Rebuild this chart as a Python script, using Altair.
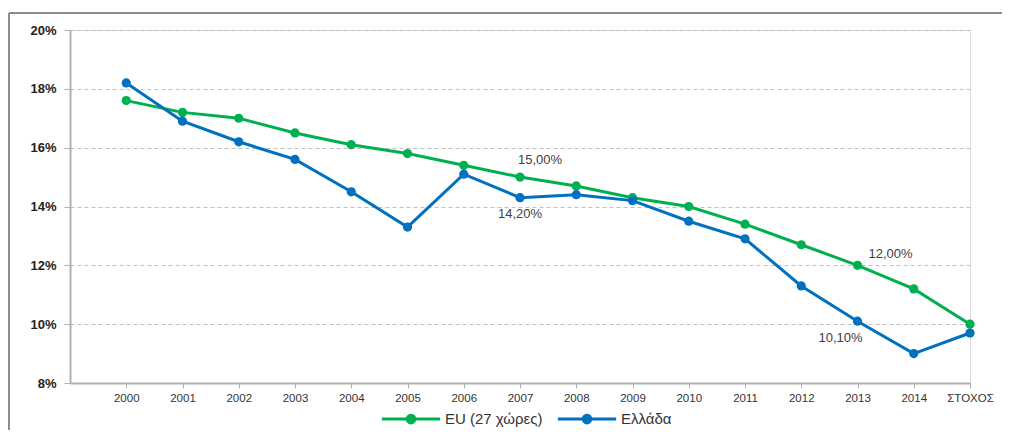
import altair as alt
import pandas as pd

categories = ["2000", "2001", "2002", "2003", "2004", "2005", "2006", "2007",
              "2008", "2009", "2010", "2011", "2012", "2013", "2014", "ΣΤΟΧΟΣ"]
eu_values = [17.6, 17.2, 17.0, 16.5, 16.1, 15.8, 15.4, 15.0, 14.7, 14.3, 14.0,
             13.4, 12.7, 12.0, 11.2, 10.0]
gr_values = [18.2, 16.9, 16.2, 15.6, 14.5, 13.3, 15.1, 14.3, 14.4, 14.2, 13.5,
             12.9, 11.3, 10.1, 9.0, 9.7]
series_names = ["EU (27 χώρες)", "Ελλάδα"]
series_colors = ["#00B050", "#0070C0"]

# annotations: (series, category, text)
ann_series = ["EU (27 χώρες)", "Ελλάδα", "EU (27 χώρες)", "Ελλάδα"]
ann_cats = ["2007", "2007", "2013", "2013"]
ann_texts = ["15,00%", "14,20%", "12,00%", "10,10%"]

rows = []
for s, vals in zip(series_names, [eu_values, gr_values]):
    for i, (c, v) in enumerate(zip(categories, vals)):
        rows.append({"idx": i, "cat": c, "value": v, "series": s})
df = pd.DataFrame(rows)

ann_rows = []
for s, c, t in zip(ann_series, ann_cats, ann_texts):
    i = categories.index(c)
    v = (eu_values if s == series_names[0] else gr_values)[i]
    ann_rows.append({"idx": i, "value": v, "text": t})
ann_df = pd.DataFrame(ann_rows)

FONT = "Liberation Sans"
label_expr = "[" + ",".join("'" + c + "'" for c in categories) + "][datum.value]"

x_enc = alt.X("idx:Q",
              scale=alt.Scale(domain=[-1, len(categories) - 1], nice=False, zero=False),
              axis=alt.Axis(values=list(range(len(categories))), labelExpr=label_expr,
                            grid=False, domainColor="#b0b0b0", domainWidth=2,
                            tickColor="#b0b0b0", tickSize=5, tickWidth=1,
                            labelFont=FONT, labelFontSize=11.5, labelColor="#333333",
                            labelPadding=4, title=None, labelFlush=False))
y_enc = alt.Y("value:Q",
              scale=alt.Scale(domain=[8, 20], nice=False, zero=False),
              axis=alt.Axis(values=[8, 10, 12, 14, 16, 18, 20],
                            labelExpr="datum.value + '%'",
                            grid=True, gridDash=[4, 3], gridColor="#c0c0c0",
                            domainColor="#b0b0b0", domainWidth=2,
                            tickColor="#b0b0b0", tickSize=6,
                            labelFont=FONT, labelFontSize=13, labelFontWeight="bold",
                            labelColor="#222222", labelPadding=8, title=None))

legend_path = ("M-1,0H1 M-0.13,0 a0.13,0.13 0 1,0 0.26,0 "
               "a0.13,0.13 0 1,0 -0.26,0")
color_enc = alt.Color("series:N",
                      scale=alt.Scale(domain=series_names, range=series_colors),
                      legend=alt.Legend(title=None, orient="none", direction="horizontal",
                                        legendX=310, legendY=358,
                                        symbolType=legend_path, symbolSize=3400,
                                        symbolStrokeWidth=3,
                                        labelFont=FONT, labelFontSize=15,
                                        labelColor="#333333", labelOffset=3,
                                        columnPadding=8))

base = alt.Chart(df)
lines = base.mark_line(strokeWidth=3).encode(
    x=x_enc, y=y_enc, color=color_enc, detail="series:N", order="idx:Q")
points = base.mark_point(filled=True, size=85, opacity=1).encode(
    x="idx:Q", y="value:Q", color=alt.Color("series:N", legend=None,
                                            scale=alt.Scale(domain=series_names, range=series_colors)))

offsets = [(20, -17), (0, 16), (33, -11), (-17, 17)]
texts = []
for t, (dx, dy) in zip(ann_texts, offsets):
    texts.append(
        alt.Chart(ann_df).transform_filter(alt.datum.text == t)
        .mark_text(dx=dx, dy=dy, font=FONT, fontSize=13, color="#404040")
        .encode(x="idx:Q", y="value:Q", text="text:N")
    )

frame_src = alt.Chart(pd.DataFrame({"a": [0]}))
frame_top = frame_src.mark_rule(stroke="#8c8c8c", strokeWidth=2).encode(
    x=alt.value(-61), x2=alt.value(1100), y=alt.value(-17))
frame_left = frame_src.mark_rule(stroke="#8c8c8c", strokeWidth=2).encode(
    x=alt.value(-61), y=alt.value(-17), y2=alt.value(460))

chart = alt.layer(frame_top, frame_left, lines, points, *texts).properties(
    width=900, height=353,
    padding={"left": 62, "top": 22, "right": 32, "bottom": 47},
    autosize=alt.AutoSizeParams(type="none"),
).configure_view(stroke=None).configure(background="white")

chart.save("out.html", embed_options={"renderer": "svg", "actions": False})
